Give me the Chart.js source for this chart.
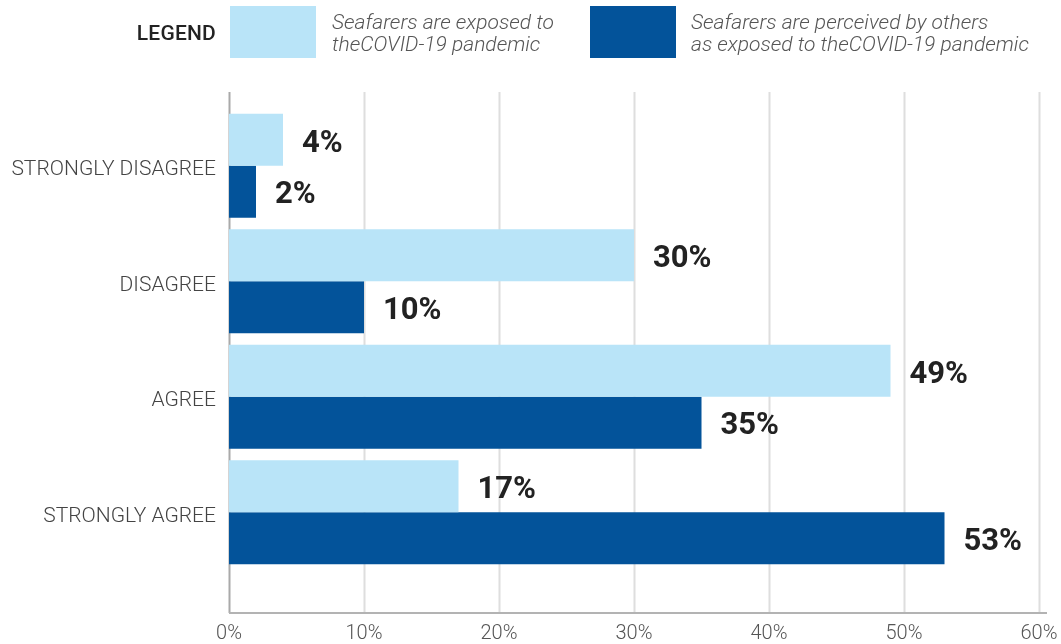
<!DOCTYPE html>
<html>
<head>
<meta charset="utf-8">
<script src="https://cdn.jsdelivr.net/npm/chart.js@4/dist/chart.umd.min.js"></script>
<style>
  html, body { margin: 0; padding: 0; background: #fff; }
  #wrap { position: relative; width: 1061px; height: 644px; overflow: hidden; }
  #chart { position: absolute; left: 0; top: 0; }
  .legend-title { position: absolute; left: 100px; width: 116px; top: 21px; text-align: right;
    font: 500 21px Roboto, sans-serif; color: #222; letter-spacing: 0.2px; }
  .legend-box { position: absolute; top: 6px; width: 86px; height: 52px; }
  .legend-text { position: absolute; top: 11px; font: italic 300 21px/22px Roboto, sans-serif; color: #555; white-space: nowrap; }
</style>
</head>
<body>
<div id="wrap">
  <canvas id="chart" width="1061" height="644"></canvas>
  <div class="legend-title">LEGEND</div>
  <div id="legend"></div>
</div>
<script>
// Survey answers, in percent of respondents
const categories = ['STRONGLY DISAGREE', 'DISAGREE', 'AGREE', 'STRONGLY AGREE'];
const exposed = [4, 30, 49, 17];
const perceived = [2, 10, 35, 53];
const seriesNames = [
  ['Seafarers are exposed to', 'theCOVID-19 pandemic'],
  ['Seafarers are perceived by others', 'as exposed to theCOVID-19 pandemic']
];
const seriesColors = ['#b9e4f8', '#03539a'];
const xTickValues = [0, 10, 20, 30, 40, 50, 60];

// legend boxes and captions
const legendSlots = [{ box: 230, text: 332 }, { box: 590, text: 691 }];
const legendEl = document.getElementById('legend');
seriesNames.forEach((lines, i) => {
  const box = document.createElement('div');
  box.className = 'legend-box';
  box.style.left = legendSlots[i].box + 'px';
  box.style.background = seriesColors[i];
  legendEl.appendChild(box);
  const txt = document.createElement('div');
  txt.className = 'legend-text';
  txt.style.left = legendSlots[i].text + 'px';
  txt.innerHTML = lines.join('<br>');
  legendEl.appendChild(txt);
});

const FRAME_TOP = 92, FRAME_BOTTOM = 613;

// grid lines and axis frame reaching above and below the bar area
const framePlugin = {
  id: 'frame',
  beforeDatasetsDraw(chart) {
    const ctx = chart.ctx, x = chart.scales.x;
    ctx.save();
    xTickValues.forEach(v => {
      const px = Math.round(x.getPixelForValue(v)) + 0.5;
      ctx.strokeStyle = v === 0 ? '#a9a9a9' : '#dedede';
      ctx.lineWidth = 2;
      ctx.beginPath();
      ctx.moveTo(px, FRAME_TOP);
      ctx.lineTo(px, FRAME_BOTTOM);
      ctx.stroke();
    });
    ctx.strokeStyle = '#b3b3b3';
    ctx.lineWidth = 2;
    ctx.beginPath();
    ctx.moveTo(x.getPixelForValue(0), FRAME_BOTTOM);
    ctx.lineTo(x.getPixelForValue(60) + 8, FRAME_BOTTOM);
    ctx.stroke();
    ctx.restore();
  }
};

// value labels next to each bar
const valueLabels = {
  id: 'valueLabels',
  afterDatasetsDraw(chart) {
    const ctx = chart.ctx;
    ctx.save();
    ctx.font = 'bold 31px Roboto, sans-serif';
    ctx.fillStyle = '#222';
    ctx.textAlign = 'left';
    ctx.textBaseline = 'middle';
    chart.data.datasets.forEach((ds, di) => {
      chart.getDatasetMeta(di).data.forEach((bar, i) => {
        ctx.fillText(ds.data[i] + '%', bar.x + 19, bar.y + 4);
      });
    });
    ctx.restore();
  }
};

new Chart(document.getElementById('chart'), {
  type: 'bar',
  data: {
    labels: categories,
    datasets: [
      { label: seriesNames[0].join(' '), data: exposed, backgroundColor: seriesColors[0] },
      { label: seriesNames[1].join(' '), data: perceived, backgroundColor: seriesColors[1] }
    ]
  },
  options: {
    indexAxis: 'y',
    responsive: false,
    animation: false,
    categoryPercentage: 0.9,
    barPercentage: 1.0,
    layout: { padding: { top: 108, right: 22, left: 0, bottom: 0 } },
    plugins: { legend: { display: false }, tooltip: { enabled: false } },
    scales: {
      x: {
        min: 0, max: 60,
        grid: { display: false, drawTicks: false },
        border: { display: false },
        afterFit(s) { s.height = 74; s.paddingLeft = 0; s.paddingRight = 0; },
        afterBuildTicks(s) { s.ticks = xTickValues.map(v => ({ value: v })); },
        ticks: {
          padding: 52,
          maxRotation: 0,
          color: '#555',
          font: { family: 'Roboto', size: 20, weight: 300 },
          callback: v => v + '%'
        }
      },
      y: {
        grid: { display: false, drawTicks: false },
        border: { display: false },
        afterFit(s) { s.width = 229; s.paddingTop = 0; s.paddingBottom = 0; },
        ticks: {
          padding: 13,
          labelOffset: 4,
          color: '#444',
          font: { family: 'Roboto', size: 21, weight: 300 }
        }
      }
    }
  },
  plugins: [framePlugin, valueLabels]
});
</script>
</body>
</html>
